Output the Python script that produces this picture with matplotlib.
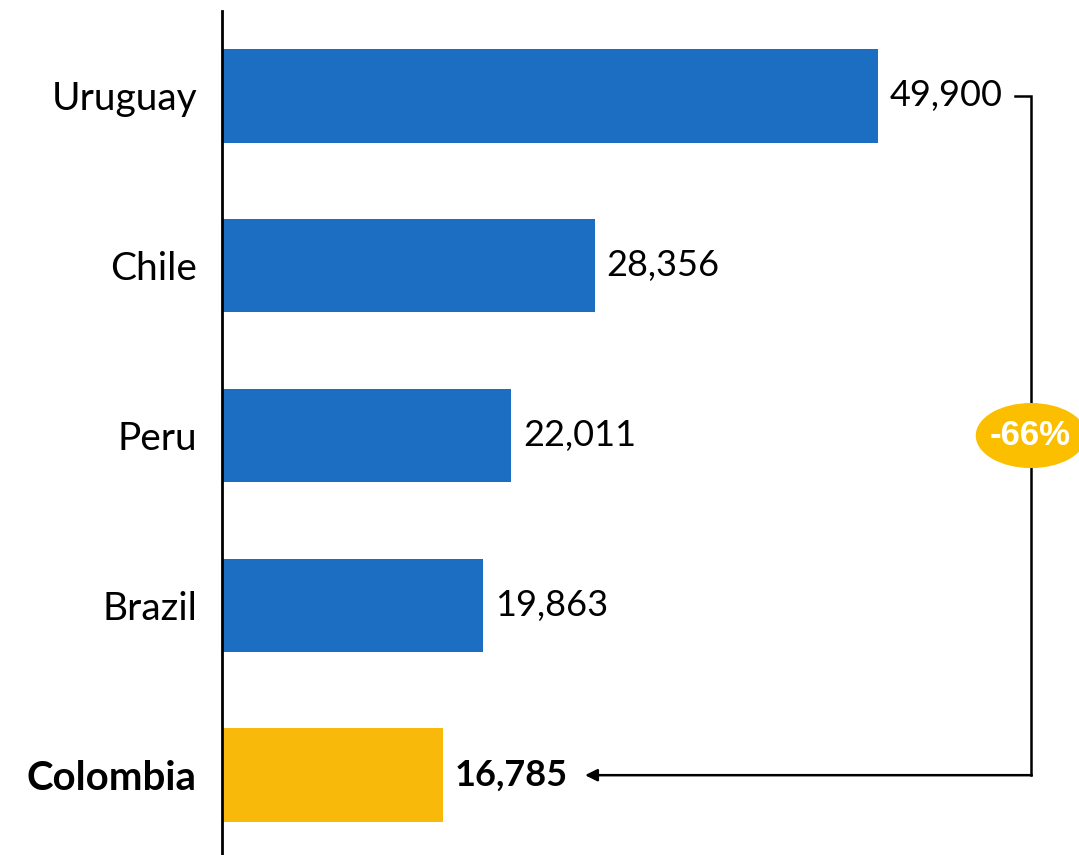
import matplotlib.pyplot as plt
from matplotlib.patches import Ellipse

# data (top to bottom)
countries = ['Uruguay', 'Chile', 'Peru', 'Brazil', 'Colombia']
values = [49900, 28356, 22011, 19863, 16785]
highlight = 'Colombia'

blue = '#1B6EC1'
yellow = '#F9B90A'

plt.rcParams['font.family'] = ['Lato', 'DejaVu Sans']

fig = plt.figure(figsize=(10.79, 8.55), dpi=100)
ax = fig.add_axes([222/1079, 0, 857/1079, 844/855])

n = len(countries)
ypos = [n - 1 - i for i in range(n)]
colors = [yellow if c == highlight else blue for c in countries]
ax.barh(ypos, values, height=0.55, color=colors)

ax.set_xlim(0, 65190)
ax.set_ylim(-0.47, 4.50)

for y, v, c in zip(ypos, values, countries):
    bold = c == highlight
    ax.text(v + 900, y, f'{v:,}', va='center', ha='left', fontsize=26,
            fontweight='bold' if bold else 'normal', color='black')

ax.set_yticks(ypos)
ax.set_yticklabels(countries, fontsize=28)
for lab in ax.get_yticklabels():
    if lab.get_text() == highlight:
        lab.set_fontweight('bold')
        lab.set_fontsize(29)
ax.tick_params(axis='y', length=0, pad=18)
ax.set_xticks([])
for s in ['top', 'right', 'bottom']:
    ax.spines[s].set_visible(False)
ax.spines['left'].set_linewidth(2)

# bracket from top bar to highlighted bar
top_v = values[0]
low_v = values[countries.index(highlight)]
y_top = ypos[0]
y_low = ypos[countries.index(highlight)]
xb = top_v + 11640
ax.plot([top_v + 10420, xb, xb], [y_top, y_top, y_low], color='black', lw=1.8,
        clip_on=False, solid_joinstyle='miter')
ax.annotate('', xy=(low_v + 10830, y_low), xytext=(xb + 60, y_low),
            arrowprops=dict(arrowstyle='-|>', color='black', lw=1.8,
                            mutation_scale=18, shrinkA=0, shrinkB=0))

pct = round((low_v - top_v) / top_v * 100)
ymid = (y_top + y_low) / 2
ax.add_patch(Ellipse((xb, ymid), 8300, 0.375, color='#FBBF00', clip_on=False, zorder=3))
ax.text(xb - 100, ymid, f'{pct}%', ha='center', va='center', color='white', fontsize=25,
        fontweight='bold', family=['Liberation Sans', 'DejaVu Sans'], zorder=4)

fig.savefig('out.png', dpi=100)
